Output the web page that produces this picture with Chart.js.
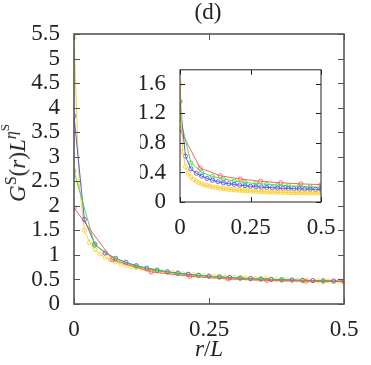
<!DOCTYPE html>
<html><head><meta charset="utf-8">
<script src="https://cdn.jsdelivr.net/npm/chart.js@4/dist/chart.umd.min.js"></script>
<style>
html,body{margin:0;padding:0;background:#fff;}
#wrap{position:relative;width:371px;height:365px;overflow:hidden;font-family:"Liberation Serif","Times New Roman",serif;color:#222;}
#main{position:absolute;left:0;top:0;}
#inset{position:absolute;left:140px;top:50px;}
.t{position:absolute;font-size:23px;white-space:nowrap;line-height:1;}
sup{font-size:70%;vertical-align:0.55em;line-height:0;}
sup sup{font-size:80%;}
</style></head>
<body>
<div id="wrap">
<canvas id="main" width="371" height="365"></canvas>
<canvas id="inset" width="215" height="190"></canvas>
<div class="t" id="title" style="left:208px;top:11px;transform:translate(-50%,-50%);">(d)</div>
<div class="t" id="xt" style="left:209px;top:348px;transform:translate(-50%,-50%);"><i>r</i>/<i>L</i></div>
<div class="t" id="yt" style="left:17px;top:163px;transform:translate(-50%,-50%) rotate(-90deg);"><i>G</i><sup>S</sup>(<i>r</i>)<i>L</i><sup><i>η</i><sup>S</sup></sup></div>
</div>
<script>
// system sizes (r/L spacing = 1/size)
const sizes = [14, 26, 52, 104];
const seriesColors = ['rgb(250,80,80)', 'rgb(60,215,60)', 'rgb(70,70,235)', 'rgb(250,205,40)'];
const xTicks = [0, 0.25, 0.5];
const mainYTicks = [0, 0.5, 1, 1.5, 2, 2.5, 3, 3.5, 4, 4.5, 5, 5.5];
const insetYTicks = [0, 0.4, 0.8, 1.2, 1.6];

// main panel values
const mainRed = [1.96, 0.90, 0.655, 0.565, 0.51, 0.48, 0.465, 0.46];
const mainGreen = [2.71, 1.20, 0.92, 0.77, 0.68, 0.62, 0.58, 0.55, 0.525, 0.505, 0.49, 0.478, 0.468, 0.462];
const mainBlue = [3.83, 1.72, 1.22, 1.04, 0.93, 0.85, 0.78, 0.73, 0.69, 0.655, 0.63, 0.605, 0.585, 0.565,
  0.55, 0.538, 0.527, 0.517, 0.508, 0.50, 0.494, 0.488, 0.482, 0.477, 0.472, 0.467, 0.463];
const mainYellow = [5.43, 2.45, 1.50, 1.25, 1.11, 1.02, 0.95, 0.90, 0.86, 0.82, 0.79, 0.765, 0.745, 0.725,
  0.705, 0.69, 0.675, 0.66, 0.645, 0.635, 0.625, 0.615, 0.605, 0.595, 0.585, 0.578, 0.57, 0.563, 0.557,
  0.551, 0.545, 0.54, 0.535, 0.53, 0.525, 0.52, 0.515, 0.51, 0.505, 0.50, 0.496, 0.492, 0.488, 0.485,
  0.482, 0.479, 0.476, 0.473, 0.47, 0.468, 0.466, 0.464, 0.462];

// inset values
const insetRed = [0.98, 0.46, 0.355, 0.31, 0.28, 0.26, 0.245, 0.235];
const insetGreen = [1.15, 0.53, 0.40, 0.345, 0.31, 0.285, 0.265, 0.25, 0.24, 0.23, 0.22, 0.212, 0.205, 0.20];
const insetBlue = [1.36, 0.62, 0.45, 0.39, 0.35, 0.32, 0.295, 0.275, 0.26, 0.248, 0.238, 0.228, 0.22, 0.213,
  0.207, 0.202, 0.197, 0.193, 0.189, 0.186, 0.183, 0.18, 0.178, 0.176, 0.174, 0.172, 0.17];
const insetYellow = [1.60, 0.68, 0.48, 0.39, 0.34, 0.305, 0.28, 0.26, 0.245, 0.232, 0.222, 0.213, 0.205,
  0.198, 0.192, 0.186, 0.181, 0.176, 0.172, 0.168, 0.165, 0.162, 0.159, 0.156, 0.153, 0.151, 0.149, 0.147,
  0.145, 0.143, 0.141, 0.139, 0.138, 0.136, 0.135, 0.134, 0.133, 0.132, 0.131, 0.13, 0.129, 0.128, 0.127,
  0.126, 0.125, 0.125, 0.124, 0.123, 0.123, 0.122, 0.122, 0.121, 0.121];

const FONT = "'Liberation Serif', 'Times New Roman', serif";

function pts(vals, size){ return vals.map((v,i)=>({x:i/size, y:v})); }
function ds(vals, idx){
  return {data: pts(vals, sizes[idx]), showLine:true, borderColor:seriesColors[idx], borderWidth:0.9,
    pointRadius:2.1, pointBorderWidth:0.8, pointBackgroundColor:'rgba(0,0,0,0)', pointBorderColor:seriesColors[idx]};
}

const frame = {
  id:'frame',
  afterDraw(chart, args, o){
    const c = chart.ctx, a = chart.chartArea, xs = chart.scales.x, ys = chart.scales.y;
    c.save();
    c.strokeStyle = o.color; c.lineWidth = o.tickWidth;
    c.beginPath();
    xs.ticks.forEach(t=>{const p=Math.round(xs.getPixelForValue(t.value))+0.5;
      c.moveTo(p,a.bottom); c.lineTo(p,a.bottom-o.len); c.moveTo(p,a.top); c.lineTo(p,a.top+o.len);});
    ys.ticks.forEach(t=>{const p=Math.round(ys.getPixelForValue(t.value))+0.5;
      c.moveTo(a.left,p); c.lineTo(a.left+o.len,p); c.moveTo(a.right,p); c.lineTo(a.right-o.len,p);});
    c.stroke();
    c.lineWidth = o.width; c.strokeStyle = o.color;
    c.strokeRect(a.left, a.top, a.right-a.left, a.bottom-a.top);
    c.restore();
  }
};

function makeOpts(yTicks, ymax, yW, xH, pad, fs, frameOpt){
  return {
    responsive:false, animation:false, devicePixelRatio:1,
    layout:{padding:pad},
    plugins:{legend:{display:false}, tooltip:{enabled:false}, frame:frameOpt},
    scales:{
      x:{type:'linear', min:0, max:0.5, grid:{display:false}, border:{display:false},
        afterBuildTicks:s=>{s.ticks = xTicks.map(v=>({value:v}));},
        afterFit:s=>{s.height = xH;},
        ticks:{color:'#222', font:{family:FONT, size:fs}, padding:4, maxRotation:0, autoSkip:false,
          callback:v=>String(v)}},
      y:{type:'linear', min:0, max:ymax, grid:{display:false}, border:{display:false},
        afterBuildTicks:s=>{s.ticks = yTicks.map(v=>({value:v}));},
        afterFit:s=>{s.width = yW;},
        ticks:{color:'#222', font:{family:FONT, size:fs}, padding:6, autoSkip:false,
          callback:v=>String(v)}}
    }
  };
}

new Chart(document.getElementById('main'), {
  type:'scatter',
  data:{datasets:[ds(mainRed,0), ds(mainGreen,1), ds(mainBlue,2), ds(mainYellow,3)]},
  options:makeOpts(mainYTicks, 5.5, 74, 61, {left:0, top:34, right:27, bottom:0}, 23,
    {color:'#555', width:1.6, tickWidth:1, len:6}),
  plugins:[frame]
});

new Chart(document.getElementById('inset'), {
  type:'scatter',
  data:{datasets:[ds(insetYellow,3), ds(insetBlue,2), ds(insetGreen,1), ds(insetRed,0)]},
  options:makeOpts(insetYTicks, 1.79, 40, 38, {left:0, top:10, right:34, bottom:0}, 23,
    {color:'#222', width:1, tickWidth:1, len:5}),
  plugins:[frame]
});
</script>
</body></html>
